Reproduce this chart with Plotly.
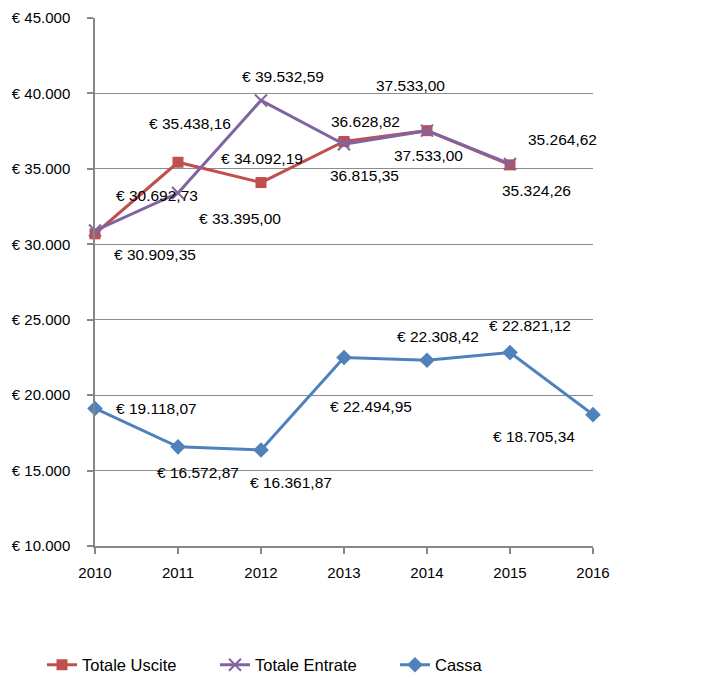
import plotly.graph_objects as go

# ---------------- data ----------------
years = [2010, 2011, 2012, 2013, 2014, 2015, 2016]
uscite = [30692.73, 35438.16, 34092.19, 36815.35, 37533.00, 35264.62]
entrate = [30909.35, 33395.00, 39532.59, 36628.82, 37533.00, 35324.26]
cassa = [19118.07, 16572.87, 16361.87, 22494.95, 22308.42, 22821.12, 18705.34]
y_ticks = [10000, 15000, 20000, 25000, 30000, 35000, 40000, 45000]
y_tick_labels = ["€ 10.000", "€ 15.000", "€ 20.000", "€ 25.000",
                 "€ 30.000", "€ 35.000", "€ 40.000", "€ 45.000"]
x_tick_labels = ["2010", "2011", "2012", "2013", "2014", "2015", "2016"]

# which data labels carry the euro sign
uscite_euro = [True, True, True, False, False, False]
entrate_euro = [True, True, True, False, False, False]
cassa_euro = [True] * 7

# ---------------- style ----------------
RED = "#C0504D"
PURPLE = "#8064A2"
BLUE = "#4F81BD"
GRID = "#8C8C8C"
AXIS = "#868686"
FONT = "Liberation Sans, Arial, sans-serif"

# label pixel offsets (dx, dy) relative to each point
uscite_off = [(62, 38), (12, 39), (1, 24), (20, -34), (-17, 45), (52, 25)]
entrate_off = [(60, -24), (62, -25), (22, 24), (21, 23), (1, -25), (26, -27)]
cassa_off = [(61, 0), (20, -26), (30, -32), (27, -49), (11, 24), (20, 27), (-59, -22)]


def fmt(v, euro):
    s = f"{v:,.2f}".replace(",", "X").replace(".", ",").replace("X", ".")
    return ("€ " + s) if euro else s


fig = go.Figure()
fig.add_trace(go.Scatter(
    x=years[:len(uscite)], y=uscite, name="Totale Uscite", mode="lines+markers",
    line=dict(color=RED, width=3),
    marker=dict(symbol="square", size=11, color=RED),
    legendwidth=128, cliponaxis=False, hoverinfo="skip"))
fig.add_trace(go.Scatter(
    x=years[:len(entrate)], y=entrate, name="Totale Entrate", mode="lines+markers",
    line=dict(color=PURPLE, width=3),
    marker=dict(symbol="x-thin", size=12, color=PURPLE,
                line=dict(color=PURPLE, width=2)),
    legendwidth=135, cliponaxis=False, hoverinfo="skip"))
fig.add_trace(go.Scatter(
    x=years, y=cassa, name="Cassa", mode="lines+markers",
    line=dict(color=BLUE, width=3),
    marker=dict(symbol="diamond", size=12, color=BLUE),
    cliponaxis=False, hoverinfo="skip"))

annotations = []
for vals, flags, offs in ((uscite, uscite_euro, uscite_off),
                          (entrate, entrate_euro, entrate_off),
                          (cassa, cassa_euro, cassa_off)):
    for x, v, e, (dx, dy) in zip(years, vals, flags, offs):
        annotations.append(dict(
            x=x, y=v, text=fmt(v, e), showarrow=False,
            xshift=dx, yshift=dy, xanchor="center", yanchor="middle",
            font=dict(family=FONT, size=15.5, color="#000000")))

fig.update_layout(
    width=708, height=687,
    margin=dict(l=95, r=115, t=18, b=141, autoexpand=False),
    paper_bgcolor="white", plot_bgcolor="white",
    font=dict(family=FONT, size=15, color="#000000"),
    showlegend=True,
    legend=dict(orientation="h", xref="container", yref="container",
                x=0.0593, xanchor="left", y=0.032, yanchor="middle",
                font=dict(family=FONT, size=16.5, color="#000000"),
                itemwidth=30, bgcolor="rgba(0,0,0,0)"),
    annotations=annotations,
    xaxis=dict(range=[2010, 2016], tickmode="array", tickvals=years,
               ticktext=x_tick_labels, showgrid=False, zeroline=False,
               showline=True, linecolor=AXIS, linewidth=1.5, automargin=False,
               ticks="outside", ticklen=6, tickcolor=AXIS, tickwidth=1.5,
               ticklabelstandoff=6, tickfont=dict(size=15)),
    yaxis=dict(range=[10000, 45000], tickmode="array", tickvals=y_ticks,
               ticktext=y_tick_labels, showgrid=True, gridcolor=GRID, gridwidth=1,
               zeroline=False, showline=True, linecolor=AXIS, linewidth=1.5,
               automargin=False,
               ticks="outside", ticklen=6, tickcolor=AXIS, tickwidth=1.5,
               ticklabelstandoff=14, tickfont=dict(size=15)),
)

fig.write_html("out.html", config={"displayModeBar": False},
               post_script="document.body.style.margin='0';")
